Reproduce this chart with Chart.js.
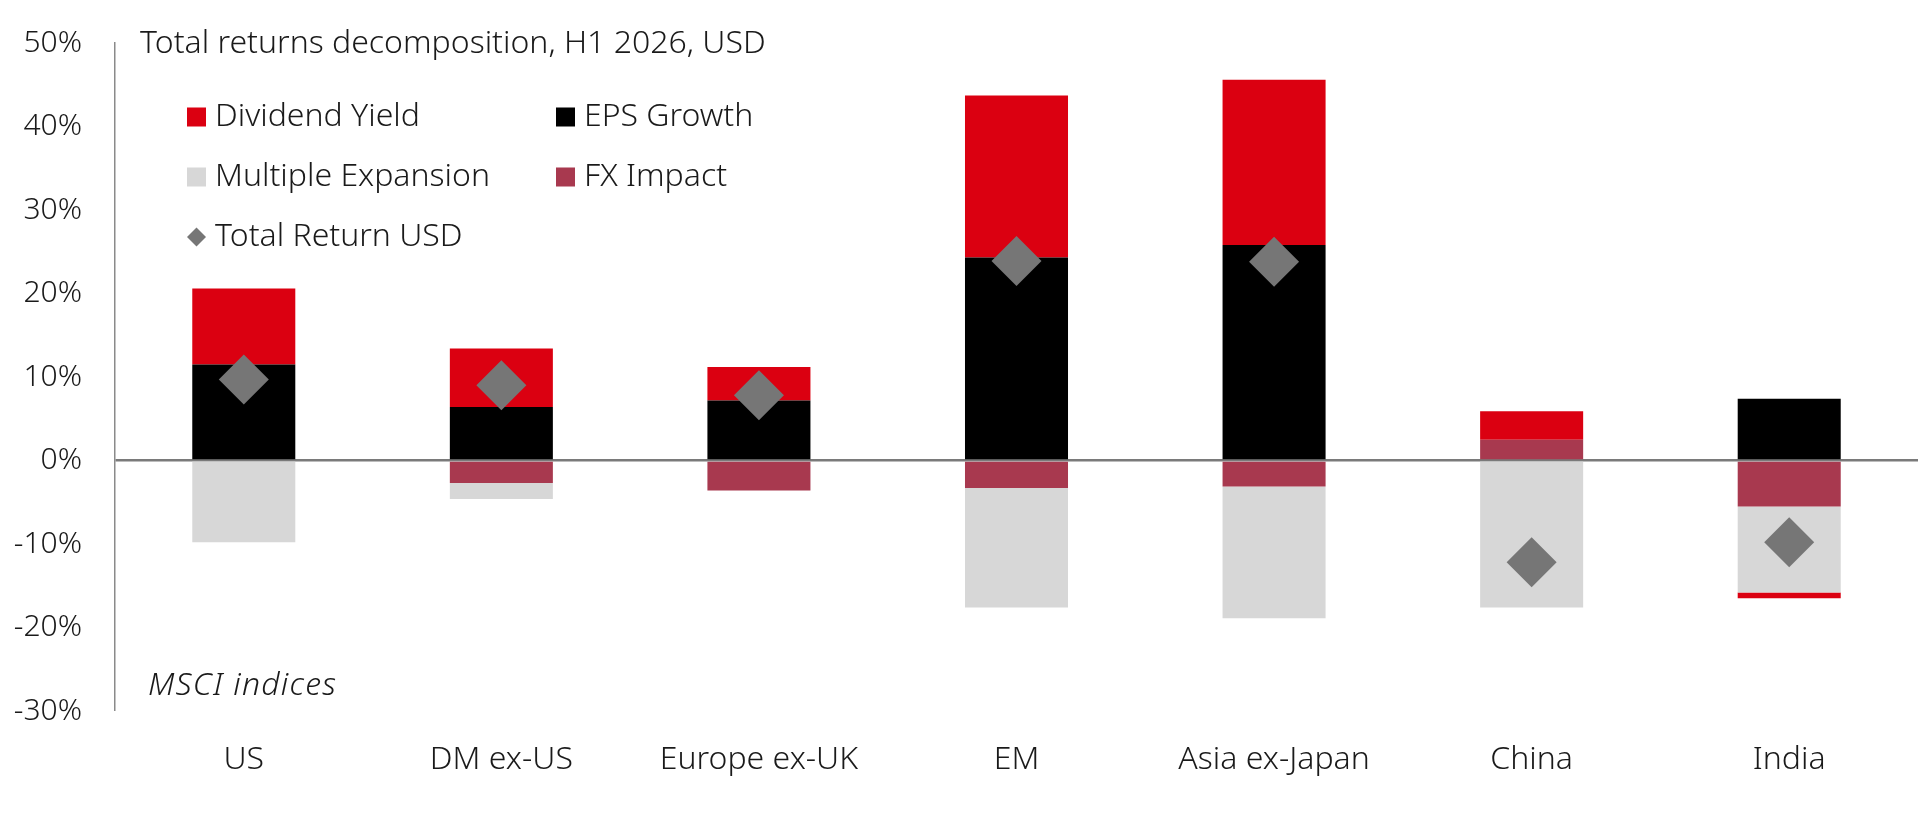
<!DOCTYPE html>
<html>
<head>
<meta charset="utf-8">
<script src="https://cdn.jsdelivr.net/npm/chart.js@4/dist/chart.umd.min.js"></script>
<style>
  html, body { margin: 0; padding: 0; background: #ffffff; overflow: hidden; }
  #wrap { width: 1918px; height: 818px; position: relative; overflow: hidden; }
  canvas { display: block; }
</style>
</head>
<body>
<div id="wrap"><canvas id="c" width="1918" height="818" style="width:1918px;height:818px"></canvas></div>
<script>
// ---- Data ----
const categories = ['US', 'DM ex-US', 'Europe ex-UK', 'EM', 'Asia ex-Japan', 'China', 'India'];
const dividendYield = [9.1, 7.0, 4.0, 19.4, 19.8, 3.4, -0.7];
const epsGrowth = [11.5, 6.4, 7.2, 24.3, 25.8, 0, 7.4];
const multipleExpansion = [-9.8, -1.9, 0, -14.3, -15.8, -17.6, -10.3];
const fxImpact = [0, -2.7, -3.6, -3.3, -3.1, 2.5, -5.5];
const totalReturnUSD = [9.7, 9.0, 7.8, 23.9, 23.8, -12.2, -9.8];
const yTickValues = [-30, -20, -10, 0, 10, 20, 30, 40, 50];
const chartTitle = 'Total returns decomposition, H1 2026, USD';
const noteText = 'MSCI indices';
const legendOrder = ['Dividend Yield', 'EPS Growth', 'Multiple Expansion', 'FX Impact', 'Total Return USD'];

const FONT = '"Noto Sans", "Liberation Sans", Arial, sans-serif';
const WEIGHT = '300';
const TEXT = '#1a1a1a';
const COL_RED = '#DB0011';
const COL_BLACK = '#000000';
const COL_GREY = '#D7D7D7';
const COL_FX = '#A8394F';
const COL_DIAMOND = '#767676';

const overlayPlugin = {
  id: 'overlay',
  afterDraw(chart) {
    const ctx = chart.ctx;
    ctx.save();
    ctx.fillStyle = TEXT;
    ctx.textBaseline = 'middle';
    ctx.textAlign = 'left';
    ctx.font = WEIGHT + ' 32px ' + FONT;
    ctx.fillText(chartTitle, 140, 44);
    ctx.font = 'italic ' + WEIGHT + ' 32px ' + FONT;
    if ('letterSpacing' in ctx) ctx.letterSpacing = '1.2px';
    ctx.fillText(noteText, 148, 686);
    if ('letterSpacing' in ctx) ctx.letterSpacing = '0px';

    // custom legend, two columns
    const slots = [
      { x: 187, y: 117 }, { x: 556, y: 117 },
      { x: 187, y: 177 }, { x: 556, y: 177 },
      { x: 187, y: 237 }
    ];
    ctx.font = WEIGHT + ' 32px ' + FONT;
    legendOrder.forEach((lbl, i) => {
      const ds = chart.data.datasets.find(d => d.label === lbl);
      if (!ds) return;
      const s = slots[i];
      ctx.fillStyle = ds.backgroundColor;
      if (ds.type === 'line') {
        ctx.beginPath();
        ctx.moveTo(s.x + 9.5, s.y - 9.5);
        ctx.lineTo(s.x + 19, s.y);
        ctx.lineTo(s.x + 9.5, s.y + 9.5);
        ctx.lineTo(s.x, s.y);
        ctx.closePath();
        ctx.fill();
      } else {
        ctx.fillRect(s.x, s.y - 9.5, 19, 19);
      }
      ctx.fillStyle = TEXT;
      ctx.fillText(lbl, s.x + 28, s.y);
    });
    ctx.restore();
  }
};

new Chart(document.getElementById('c'), {
  type: 'bar',
  data: {
    labels: categories,
    datasets: [
      { type: 'line', label: 'Total Return USD', data: totalReturnUSD, stack: 'tr',
        showLine: false, pointStyle: 'rectRot', pointRadius: 25, pointHoverRadius: 25,
        backgroundColor: COL_DIAMOND, borderColor: COL_DIAMOND, pointBorderWidth: 0, order: 0 },
      { label: 'EPS Growth', data: epsGrowth, backgroundColor: COL_BLACK, stack: 's', order: 1 },
      { label: 'FX Impact', data: fxImpact, backgroundColor: COL_FX, stack: 's', order: 1 },
      { label: 'Multiple Expansion', data: multipleExpansion, backgroundColor: COL_GREY, stack: 's', order: 1 },
      { label: 'Dividend Yield', data: dividendYield, backgroundColor: COL_RED, stack: 's', order: 1 }
    ]
  },
  options: {
    responsive: false,
    maintainAspectRatio: false,
    devicePixelRatio: 1,
    animation: false,
    layout: { autoPadding: false, padding: { top: 43, right: 0, bottom: 0, left: 0 } },
    datasets: {
      bar: { barPercentage: 0.4, categoryPercentage: 1.0, borderWidth: 0 }
    },
    plugins: {
      legend: { display: false },
      title: { display: false },
      tooltip: { enabled: false }
    },
    scales: {
      x: {
        stacked: true,
        offset: true,
        grid: { display: false, drawTicks: false },
        border: { display: false },
        ticks: { color: TEXT, font: { family: FONT, size: 32, weight: WEIGHT }, padding: 30, maxRotation: 0 },
        afterFit(scale) { scale.height = 107; scale.paddingLeft = 0; scale.paddingRight = 0; }
      },
      y: {
        stacked: true,
        min: -30,
        max: 50,
        z: 1,
        afterBuildTicks(scale) { scale.ticks = yTickValues.map(v => ({ value: v })); },
        grid: {
          drawTicks: false,
          color: (c) => (c.tick && c.tick.value === 0) ? '#7a7a7a' : 'rgba(0,0,0,0)',
          lineWidth: (c) => (c.tick && c.tick.value === 0) ? 2.5 : 0
        },
        border: { display: true, color: '#8a8a8a', width: 1.5 },
        ticks: {
          color: TEXT,
          font: { family: FONT, size: 30, weight: WEIGHT },
          padding: 33,
          callback: (v) => v + '%'
        },
        afterFit(scale) { scale.width = 115; scale.paddingTop = 0; scale.paddingBottom = 0; }
      }
    }
  },
  plugins: [overlayPlugin]
});
</script>
</body>
</html>
